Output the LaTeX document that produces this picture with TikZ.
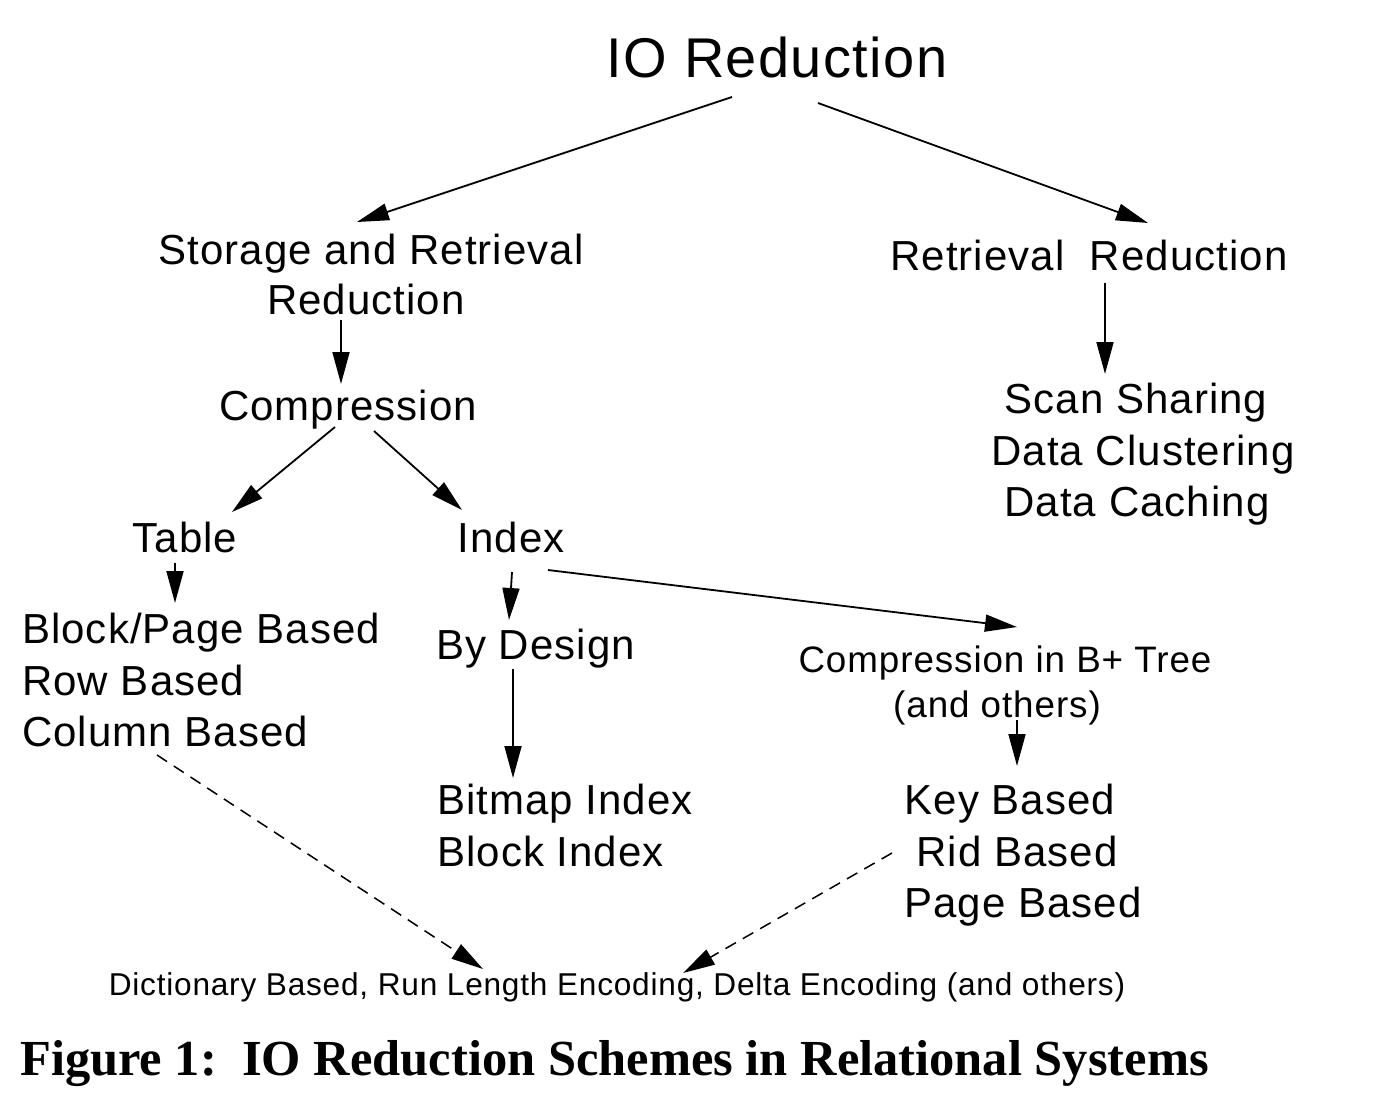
\documentclass[tikz,border=0pt]{standalone}
\usepackage{fontspec}
\setmainfont{Liberation Sans}
\newfontfamily\lsf{Liberation Sans}[LetterSpace=2.5]
\newfontfamily\capfont{Liberation Serif}
\usetikzlibrary{arrows.meta,calc}
\begin{document}
\begin{tikzpicture}[x=1pt,y=-1pt,
  lbl/.style={inner sep=0pt, anchor=base, font=\lsf\fontsize{42}{50}\selectfont},
  lbll/.style={lbl, anchor=base west},
  small/.style={inner sep=0pt, anchor=base, font=\lsf\fontsize{36.8}{42}\selectfont},
  tiny/.style={inner sep=0pt, anchor=base, font=\lsf\fontsize{31.6}{36}\selectfont},
  arr/.style={line width=1.8pt, -{Triangle[length=32pt,width=17pt]}},
  darr/.style={line width=1.5pt, dash pattern=on 12pt off 8pt, -{Triangle[length=32pt,width=17pt]}}]
\useasboundingbox (0,0) rectangle (1382,1104);
% nodes
\node[inner sep=0pt, anchor=base, font=\lsf\fontsize{56}{64}\selectfont] (io) at (777,77) {IO Reduction};
\node[lbl] (sar1) at (371,264) {Storage and Retrieval};
\node[lbl] (sar2) at (366,314) {Reduction};
\node[lbl] (rr) at (1089,270) {Retrieval\ \ Reduction};
\node[lbl] (comp) at (348,420) {Compression};
\node[lbl] (ss) at (1136,413) {Scan Sharing};
\node[lbl] (dc) at (1143,465) {Data Clustering};
\node[lbl] (dca) at (1137,516) {Data Caching};
\node[lbl] (table) at (185,552) {Table};
\node[lbl] (index) at (511,552) {Index};
\node[lbll] (bp) at (22,643) {Block/Page Based};
\node[lbll] (row) at (22,695) {Row Based};
\node[lbll] (col) at (22,746) {Column Based};
\node[lbll] (bd) at (436,659) {By Design};
\node[small] (cbt) at (1005,672) {Compression in B+ Tree};
\node[small] (ao) at (997,717) {(and others)};
\node[lbll] (bi) at (437,814) {Bitmap Index};
\node[lbll] (bli) at (437,866) {Block Index};
\node[lbl] (kb) at (1010,814) {Key Based};
\node[lbl] (rb) at (1017,866) {Rid Based};
\node[lbl] (pb) at (1023,917) {Page Based};
\node[tiny] (dict) at (617,995) {Dictionary Based, Run Length Encoding, Delta Encoding (and others)};
\node[inner sep=0pt, anchor=base west, font=\capfont\bfseries\fontsize{50.5}{58}\selectfont] (cap) at (20,1075) {Figure 1:\ \ IO Reduction Schemes in Relational Systems};
% connectors
\draw[arr] ($(io.base)+(-45,20)$) -- ($(sar1.base)+(-14,-42)$);
\draw[arr] ($(io.base)+(41,26)$) -- ($(rr.base)+(59,-47)$);
\draw[arr] ($(sar2.base)+(-25,6)$) -- ($(comp.base)+(-7,-36)$);
\draw[arr] ($(rr.base)+(16,13)$) -- ($(ss.base)+(-31,-39)$);
\draw[arr] ($(comp.base)+(-13,7)$) -- ($(table.base)+(47,-40)$);
\draw[arr] ($(comp.base)+(26,11)$) -- ($(index.base)+(-49,-42)$);
\draw[arr] ($(table.base)+(-10,11)$) -- ($(bp.base west)+(153,-40)$);
\draw[arr] ($(index.base)+(1,20)$) -- ($(bd.base west)+(73,-39)$);
\draw[arr] ($(index.base)+(37,18)$) -- ($(cbt.base)+(12,-45)$);
\draw[arr] ($(bd.base west)+(77,10)$) -- ($(bi.base west)+(76,-36)$);
\draw[arr] ($(ao.base)+(20,3)$) -- ($(kb.base)+(7,-48)$);
\draw[darr] ($(col.base west)+(135,9)$) -- ($(dict.base)+(-134,-26)$);
\draw[darr] ($(rb.base)+(-125,-13)$) -- ($(dict.base)+(66,-22)$);
\end{tikzpicture}
\end{document}
